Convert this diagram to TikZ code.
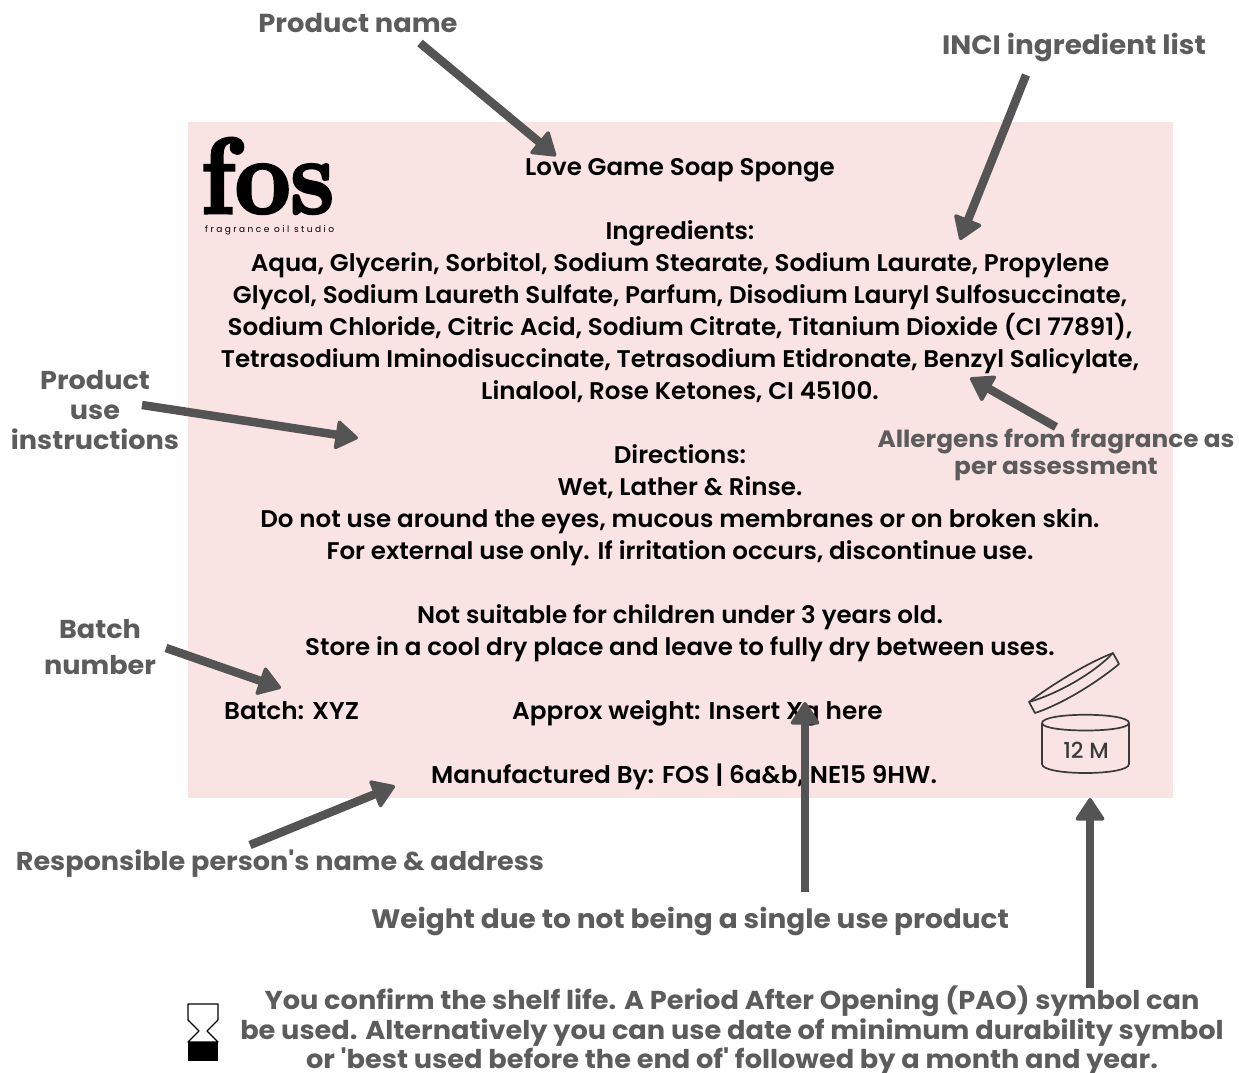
\documentclass[tikz,border=0pt]{standalone}
\usepackage{fontspec}
\usetikzlibrary{arrows.meta}
\newfontfamily\bodyfont[FakeStretch=1.018,BoldFont={Poppins SemiBold}]{Poppins}
\newfontfamily\labelfont[FakeStretch=1.05]{Poppins Bold}
\newfontfamily\iconfont{Poppins Medium}
\newfontfamily\tinyfont[LetterSpace=27]{Poppins}
\newfontfamily\logofont[FakeStretch=0.92,BoldFeatures={FakeBold=3}]{Latin Modern Roman}
\definecolor{panelpink}{HTML}{F9E4E3}
\definecolor{labelgrey}{HTML}{5C5C5C}
\definecolor{arrowgrey}{HTML}{545454}
\definecolor{iconink}{HTML}{3A3A3A}
\tikzset{
  panel/.style={fill=panelpink,draw=none},
  bodytext/.style={inner sep=0pt,text=black,align=center,font={\bodyfont\bfseries\fontsize{24.1}{32}\selectfont}},
  gridtext/.style={inner sep=0pt,text=black,anchor=base west,font={\bodyfont\bfseries\fontsize{24.3}{32}\selectfont}},
  callout/.style={inner sep=0pt,text=labelgrey,align=center,font={\labelfont\fontsize{25.8}{30}\selectfont}},
  pointer/.style={draw=arrowgrey,line width=8.5pt,-{Triangle[round,length=24pt,width=31pt,line width=3.5pt,fill=arrowgrey]}},
  icon/.style={draw=iconink,line width=1.7pt,line join=round},
}
\begin{document}
\begin{tikzpicture}[x=1pt,y=-1pt]
\useasboundingbox (0,0) rectangle (1239,1073);
\fill[panel] (188,122) rectangle (1173,798);

% logo
\node[inner sep=0pt,anchor=base west] (logo) at (201,213) {\logofont\bfseries\fontsize{107}{107}\selectfont fos};
\node[inner sep=0pt,anchor=base west] (logotag) at (205,232) {\tinyfont\fontsize{9}{9}\selectfont fragrance oil studio};

% body
\node[bodytext,anchor=north] (body) at (680,158) {Love Game Soap Sponge\\[32pt]
Ingredients:\\
Aqua, Glycerin, Sorbitol, Sodium Stearate, Sodium Laurate, Propylene\\
Glycol, Sodium Laureth Sulfate, Parfum, Disodium Lauryl Sulfosuccinate,\\
Sodium Chloride, Citric Acid, Sodium Citrate, Titanium Dioxide (CI 77891),\\
Tetrasodium Iminodisuccinate, Tetrasodium Etidronate, Benzyl Salicylate,\\
Linalool, Rose Ketones, CI 45100.\\[32pt]
Directions:\\
Wet, Lather \& Rinse.\\
Do not use around the eyes, mucous membranes or on broken skin.\\
For external use only. If irritation occurs, discontinue use.\\[32pt]
Not suitable for children under 3 years old.\\
Store in a cool dry place and leave to fully dry between uses.};
\node[gridtext] (batch) at (224,719) {Batch: XYZ};
\node[gridtext] (weight) at (512,719) {Approx weight: Insert Xg here};
\node[gridtext,anchor=base] (maker) at (684,783) {Manufactured By: FOS | 6a\&b, NE15 9HW.};

% PAO icon
\draw[icon] (1029,702) .. controls (1050,686) and (1085,664) .. (1113,653)
  -- (1119,664) .. controls (1100,680) and (1065,703) .. (1035,713) -- cycle;
\draw[icon] (1029,702) .. controls (1060,693) and (1095,672) .. (1113,653);
\draw[icon] (1042,723) .. controls (1042,712) and (1129,712) .. (1129,723)
  .. controls (1129,733) and (1042,733) .. (1042,723) -- cycle;
\draw[icon] (1042,723) -- (1042,764) .. controls (1042,776) and (1129,776) .. (1129,764) -- (1129,723);
\node[inner sep=0pt,text=iconink,anchor=base] (pao) at (1086,758) {\iconfont\fontsize{22}{22}\selectfont 12 M};

% hourglass
\fill[black] (188,1042) rectangle (218,1061);
\draw[black,line width=1.3pt,line join=round] (188,1004) -- (218,1004) -- (218,1020) -- (207,1031) -- (218,1042)
  -- (188,1042) -- (199,1031) -- (188,1020) -- cycle;

% callouts
\node[callout,anchor=base,font={\labelfont\fontsize{26}{30}\selectfont}] (name) at (358,33) {Product name};
\node[callout,anchor=base,font={\labelfont\fontsize{26.6}{30}\selectfont}] (inci) at (1074,55) {INCI ingredient list};
\node[callout,anchor=north] (use) at (95,370) {Product\\use\\instructions};
\node[callout,anchor=north,font={\labelfont\fontsize{23.6}{27}\selectfont}] (allergen) at (1056,429) {Allergens from fragrance as\\per assessment};
\node[callout,anchor=north,font={\labelfont\fontsize{25.8}{36}\selectfont}] (batchlab) at (100,619) {Batch\\number};
\node[callout,anchor=base] (person) at (280,870) {Responsible person's name \& address};
\node[callout,anchor=base,font={\labelfont\fontsize{26.6}{30}\selectfont}] (weightlab) at (690,928) {Weight due to not being a single use product};
\node[callout,anchor=north,font={\labelfont\fontsize{25.9}{29.5}\selectfont}] (shelf) at (732,986) {You confirm the shelf life. A Period After Opening (PAO) symbol can\\
be used. Alternatively you can use date of minimum durability symbol\\
or 'best used before the end of' followed by a month and year.};

% pointers
\coordinate (p1a) at (420,43);   \coordinate (p1b) at (556,156);
\coordinate (p2a) at (1026,75);  \coordinate (p2b) at (960,240);
\coordinate (p3a) at (1056,427); \coordinate (p3b) at (970,378);
\coordinate (p4a) at (142,405);  \coordinate (p4b) at (358,438);
\coordinate (p5a) at (166,648);  \coordinate (p5b) at (281,688);
\coordinate (p6a) at (250,845);  \coordinate (p6b) at (395,786);
\coordinate (p7a) at (805,892);  \coordinate (p7b) at (805,702);
\coordinate (p8a) at (1090,988); \coordinate (p8b) at (1090,798);
\draw[pointer] (p1a) -- (p1b);
\draw[pointer] (p2a) -- (p2b);
\draw[pointer] (p3a) -- (p3b);
\draw[pointer] (p4a) -- (p4b);
\draw[pointer] (p5a) -- (p5b);
\draw[pointer] (p6a) -- (p6b);
\draw[pointer] (p7a) -- (p7b);
\draw[pointer] (p8a) -- (p8b);
\end{tikzpicture}
\end{document}
